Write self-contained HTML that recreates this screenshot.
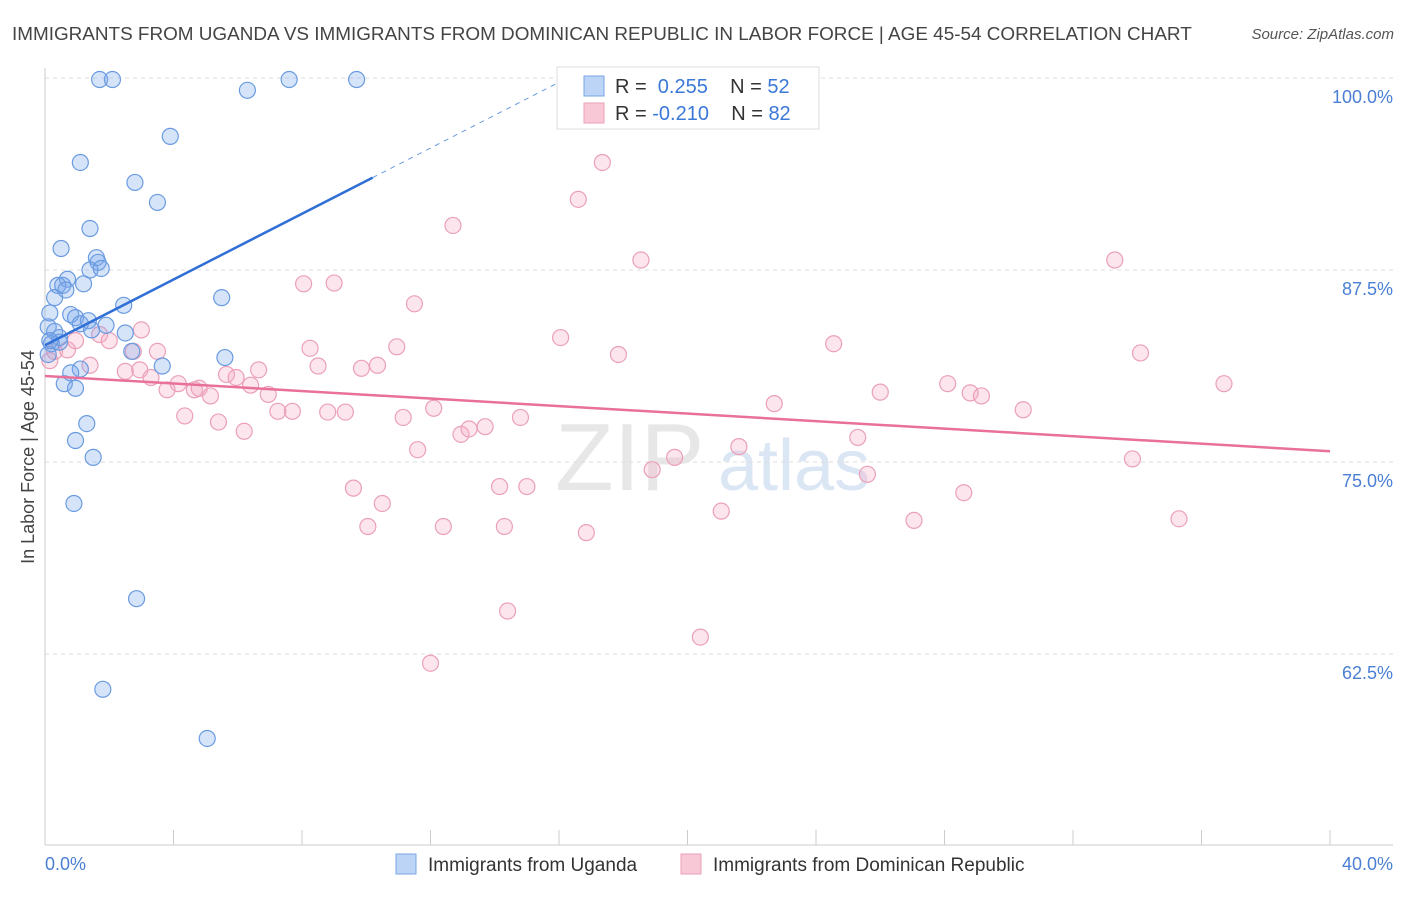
<!DOCTYPE html>
<html><head><meta charset="utf-8"><style>
body{margin:0;background:#fff;font-family:"Liberation Sans",sans-serif}
svg text{font-family:"Liberation Sans",sans-serif}
</style></head><body>
<svg id="chart" width="1406" height="892" viewBox="0 0 1406 892" xmlns="http://www.w3.org/2000/svg">
<text x="12" y="40" font-size="18.9" fill="#444">IMMIGRANTS FROM UGANDA VS IMMIGRANTS FROM DOMINICAN REPUBLIC IN LABOR FORCE | AGE 45-54 CORRELATION CHART</text>
<text x="1394" y="39" font-size="15" fill="#555" font-style="italic" text-anchor="end">Source: ZipAtlas.com</text>
<text transform="translate(34,457) rotate(-90)" font-size="18" fill="#444" text-anchor="middle">In Labor Force | Age 45-54</text>
<g><text x="555" y="490" font-size="96" fill="#e2e2e2" font-family="Liberation Serif" opacity="0.8">ZIP</text><text x="718" y="490" font-size="72" fill="#d3e0f2" opacity="0.8">atlas</text></g>
<g id="grid"></g><g id="axes"></g><g id="pts"></g><g id="trends"></g>
<g>
<rect x="557" y="67" width="262" height="62" fill="#fff" stroke="#ddd"/>
<rect x="584" y="76" width="20" height="20" fill="#bcd4f6" stroke="#7aa6e6"/>
<text x="615" y="93" font-size="20" fill="#333">R = <tspan fill="#3b78d8">&#160;0.255</tspan>&#160;&#160;&#160; N = <tspan fill="#3b78d8">52</tspan></text>
<rect x="584" y="103" width="20" height="20" fill="#f8c8d6" stroke="#eba0b8"/>
<text x="615" y="120" font-size="20" fill="#333">R = <tspan fill="#3b78d8">-0.210</tspan>&#160;&#160;&#160; N = <tspan fill="#3b78d8">82</tspan></text>
</g>
<g>
<rect x="396" y="854" width="20" height="20" fill="#bcd4f6" stroke="#7aa6e6"/>
<text x="428" y="871" font-size="19" fill="#333">Immigrants from Uganda</text>
<rect x="681" y="854" width="20" height="20" fill="#f8c8d6" stroke="#eba0b8"/>
<text x="713" y="871" font-size="19" fill="#333">Immigrants from Dominican Republic</text>
</g>
</svg>
<script>
const yTicks=[100,87.5,75,62.5];
const yTickLabels=["100.0%","87.5%","75.0%","62.5%"];
const xTickLabels=["0.0%","40.0%"];
const ugandaX=[1.7,2.1,7.6,9.7,6.3,3.9,1.1,2.8,3.5,1.4,0.5,1.6,1.65,1.4,1.75,0.7,0.4,0.55,0.65,1.2,0.3,5.5,2.45,0.15,0.8,0.95,1.35,1.1,0.1,0.3,1.9,2.5,0.45,0.45,0.2,2.7,5.6,3.65,1.1,0.8,0.6,0.95,1.3,0.95,1.5,0.9,2.85,1.8,5.05,0.1,0.15,1.45];
const ugandaY=[99.9,99.9,99.9,99.9,99.2,96.2,94.5,93.2,91.9,90.2,88.9,88.3,88.0,87.5,87.6,86.9,86.5,86.5,86.2,86.6,85.7,85.7,85.2,84.7,84.6,84.4,84.2,84.0,83.8,83.5,83.9,83.4,83.1,82.8,82.7,82.2,81.8,81.25,81.05,80.8,80.1,79.8,77.5,76.4,75.3,72.3,66.1,60.2,57.0,82.0,82.9,83.6];
const domX=[0.15,0.3,0.7,0.95,1.4,1.7,2.0,2.5,2.75,3.0,3.5,3.3,3.8,4.15,4.35,4.65,4.8,5.15,5.4,5.65,5.95,6.2,6.4,6.65,6.95,7.25,7.7,8.05,8.25,8.5,8.8,9.0,9.35,9.6,9.85,10.05,10.35,10.5,10.95,11.15,11.5,11.6,12.0,12.1,12.4,12.7,12.95,13.2,13.7,14.15,14.3,14.4,14.8,15.0,16.05,16.6,16.85,17.35,17.85,18.55,18.9,19.6,20.4,21.05,21.6,22.7,24.55,25.3,25.6,26.0,27.05,28.1,28.6,28.8,29.15,30.45,33.3,33.85,34.1,35.3,36.7,2.95];
const domY=[81.6,82.2,82.3,82.9,81.3,83.3,82.9,80.9,82.2,83.6,82.2,80.5,79.7,80.1,78.0,79.7,79.8,79.3,77.6,80.7,80.5,77.0,80.0,81.0,79.4,78.3,78.3,86.6,82.4,81.25,78.25,86.65,78.25,73.3,81.1,70.8,81.3,72.3,82.5,77.9,85.3,75.8,61.9,78.5,70.8,90.4,76.8,77.15,77.3,73.4,70.8,65.3,77.9,73.4,83.1,92.1,70.4,94.5,82.0,88.15,74.5,75.3,63.6,71.8,76.0,78.8,82.7,76.6,74.2,79.55,71.2,80.1,73.0,79.5,79.3,78.4,88.15,75.2,82.1,71.3,80.1,81.0];
const ugandaTrend=[82.6,1.07];
const domTrend=[80.6,75.7];
const NS="http://www.w3.org/2000/svg";
const X=v=>45+v*1285/40, Y=v=>78+(100-v)*15.36;
function mk(t,a,p){const e=document.createElementNS(NS,t);for(const k in a)e.setAttribute(k,a[k]);document.getElementById(p).appendChild(e);return e;}
yTicks.forEach((t,i)=>{
 const l=mk('line',{x1:45,x2:1393,y1:Y(t),y2:Y(t),stroke:'#ddd','stroke-dasharray':'4,4'},'grid');
 
 
 const tx=mk('text',{x:1393,y:Y(t)+25,'font-size':18,fill:'#4a7fd4','text-anchor':'end'},'grid');tx.textContent=yTickLabels[i];
 
 
});
const ax=mk('line',{x1:45,x2:1393,y1:845,y2:845,stroke:'#ccc'},'axes');


const ay=mk('line',{x1:45,x2:45,y1:68,y2:845,stroke:'#ccc'},'axes');


for(let i=0;i<=10;i++){const t=mk('line',{x1:X(i*4),x2:X(i*4),y1:830,y2:845,stroke:'#ccc'},'axes');
 
 }
[[0,'start',45],[40,'end',1393]].forEach((d,i)=>{const t=mk('text',{x:d[2],y:870,'font-size':18,fill:'#4a7fd4','text-anchor':d[1]},'axes');t.textContent=xTickLabels[i];
 
 });
domX.forEach((x,i)=>{const c=mk('circle',{cx:X(x),cy:Y(domY[i]),r:8,fill:'rgba(244,170,195,0.3)',stroke:'#eba0b8','stroke-width':1.2},'pts');
 
 });
ugandaX.forEach((x,i)=>{const c=mk('circle',{cx:X(x),cy:Y(ugandaY[i]),r:8,fill:'rgba(120,165,235,0.3)',stroke:'#6a9be0','stroke-width':1.2},'pts');
 
 });
const ut=x=>ugandaTrend[0]+ugandaTrend[1]*x;
const l1=mk('line',{x1:X(0),y1:Y(ut(0)),x2:X(10.2),y2:Y(ut(10.2)),stroke:'#2f6fd6','stroke-width':2.5},'trends');


const l2=mk('line',{x1:X(10.2),y1:Y(ut(10.2)),x2:X(16),y2:Y(ut(16)),stroke:'#6a9be0','stroke-width':1,'stroke-dasharray':'5,5'},'trends');


const l3=mk('line',{x1:X(0),y1:Y(domTrend[0]),x2:X(40),y2:Y(domTrend[1]),stroke:'#e8709a','stroke-width':2.5},'trends');


</script>
</body></html>
